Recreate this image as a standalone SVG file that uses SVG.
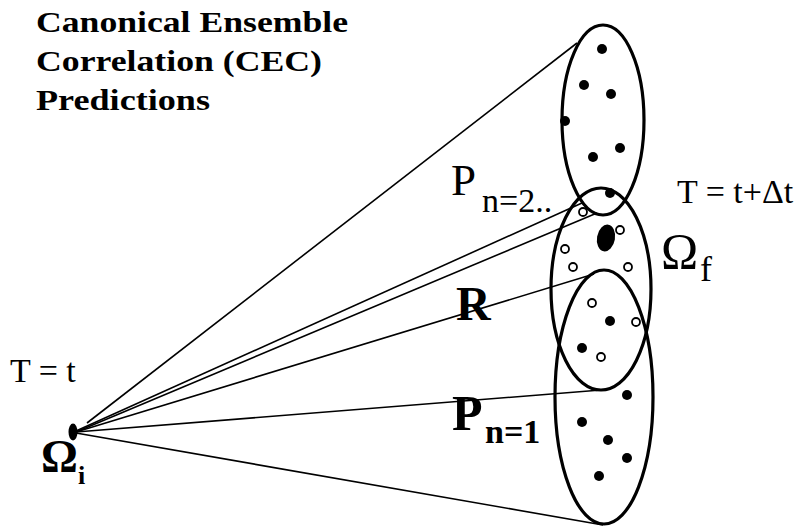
<svg xmlns="http://www.w3.org/2000/svg" width="795" height="530" viewBox="0 0 795 530">
<style>
.t{font-family:"Liberation Serif","Times New Roman",serif;fill:#000}
.b{font-weight:bold}
.ell{fill:none;stroke:#000;stroke-width:3.2}
.ln{stroke:#000;stroke-width:1.6;fill:none}
.fd{fill:#000}
.hd{fill:#fff;stroke:#000;stroke-width:1.8}
</style>
<rect width="795" height="530" fill="#fff"/>
<g id="title">
<text class="t b" x="36" y="32" font-size="30" textLength="312" lengthAdjust="spacingAndGlyphs">Canonical Ensemble</text>
<text class="t b" x="36" y="71" font-size="30" textLength="286" lengthAdjust="spacingAndGlyphs">Correlation (CEC)</text>
<text class="t b" x="36" y="110" font-size="30" textLength="174" lengthAdjust="spacingAndGlyphs">Predictions</text>
</g>
<g id="connectors">
<line class="ln" x1="87" y1="423" x2="577" y2="43"/>
<line class="ln" x1="76" y1="431" x2="582" y2="203"/>
<line class="ln" x1="76" y1="432" x2="597" y2="213"/>
<line class="ln" x1="76" y1="432" x2="594" y2="274"/>
<line class="ln" x1="76" y1="432" x2="601" y2="390"/>
<line class="ln" x1="76" y1="433" x2="603" y2="525"/>
</g>
<g id="omega-i">
<ellipse cx="73" cy="432" rx="4.5" ry="8.5" class="fd"/>
<text class="t b" x="41" y="472" font-size="46">Ω</text>
<text class="t b" x="78" y="484" font-size="26">i</text>
<text class="t" x="10" y="382" font-size="34">T = t</text>
</g>
<g id="ensemble-top">
<ellipse class="ell" cx="603" cy="120" rx="41" ry="95"/>
<circle class="fd" cx="602" cy="49" r="5"/>
<circle class="fd" cx="584" cy="85" r="5"/>
<circle class="fd" cx="611" cy="94" r="5"/>
<circle class="fd" cx="565" cy="121" r="5"/>
<circle class="fd" cx="620" cy="148" r="5"/>
<circle class="fd" cx="593" cy="157" r="5"/>
<circle class="fd" cx="610" cy="193" r="5"/>
</g>
<g id="omega-f">
<ellipse class="ell" cx="601" cy="289" rx="50" ry="101"/>
<ellipse class="fd" cx="606" cy="238" rx="9" ry="13.5" transform="rotate(10 606 238)"/>
<circle class="hd" cx="583" cy="212" r="4"/>
<circle class="hd" cx="620" cy="230" r="4"/>
<circle class="hd" cx="565" cy="249" r="4"/>
<circle class="hd" cx="573" cy="267" r="4"/>
<circle class="hd" cx="628" cy="267" r="4"/>
<circle class="hd" cx="592" cy="303" r="4"/>
<circle class="hd" cx="636" cy="322" r="4"/>
<circle class="hd" cx="601" cy="357" r="4"/>
<circle class="fd" cx="610" cy="321" r="5"/>
<circle class="fd" cx="582" cy="348" r="5"/>
<text class="t" x="661" y="268" font-size="50">Ω</text>
<text class="t" x="700" y="281" font-size="36">f</text>
<text class="t" x="677" y="203" font-size="34">T = t+Δt</text>
</g>
<g id="ensemble-bottom">
<ellipse class="ell" cx="604" cy="397" rx="49" ry="127"/>
<circle class="fd" cx="627" cy="395" r="5"/>
<circle class="fd" cx="582" cy="422" r="5"/>
<circle class="fd" cx="608" cy="440" r="5"/>
<circle class="fd" cx="627" cy="458" r="5"/>
<circle class="fd" cx="599" cy="476" r="5"/>
</g>
<g id="label-p2">
<text class="t" x="451" y="195" font-size="45">P</text>
<text class="t" x="482" y="212" font-size="34">n=2..</text>
</g>
<g id="label-r">
<text class="t b" x="456" y="320" font-size="48">R</text>
</g>
<g id="label-p1">
<text class="t b" x="452" y="430" font-size="50">P</text>
<text class="t b" x="485" y="443" font-size="34">n=1</text>
</g>
</svg>
